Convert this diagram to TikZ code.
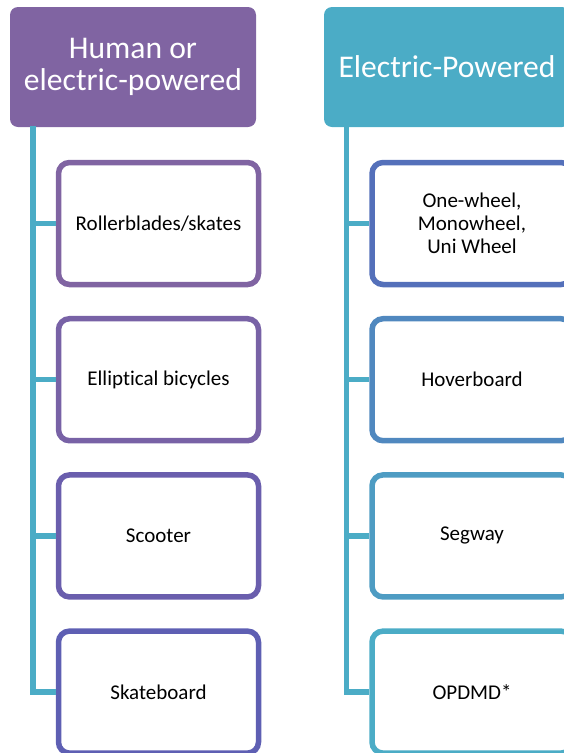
\documentclass[tikz,border=0pt]{standalone}
\usepackage{fontspec}
\setmainfont[Ligatures=NoCommon]{Carlito}
\usetikzlibrary{calc}

\definecolor{hpurple}{HTML}{8064A2}
\definecolor{haqua}{HTML}{4BACC6}
\definecolor{bcolA}{HTML}{8064A2}
\definecolor{bcolB}{HTML}{7862A6}
\definecolor{bcolC}{HTML}{6A5EAD}
\definecolor{bcolD}{HTML}{5E5FB3}
\definecolor{bcolE}{HTML}{5470BA}
\definecolor{bcolF}{HTML}{5088BF}
\definecolor{bcolG}{HTML}{4E9CC3}
\definecolor{bcolH}{HTML}{4BACC6}

\tikzset{
    header/.style={fill=#1, draw=none, rounded corners=8pt, minimum width=246pt,
        minimum height=120pt, inner sep=0pt, text=white, align=center,
        font=\fontsize{31.6}{32}\selectfont},
    itembox/.style={draw=#1, fill=white, line width=5.5pt, rounded corners=11pt,
        minimum width=200pt, minimum height=122pt, inner sep=0pt, align=center,
        font=\fontsize{21}{23}\selectfont},
    trunk/.style={draw=haqua, line width=5.5pt}
}

\begin{document}
\begin{tikzpicture}[x=1pt,y=-1pt]
    \useasboundingbox (0,0) rectangle (564,753);
    \clip (0,0) rectangle (564,753);
    \pgfmathsetmacro{\ytop}{223.5}
    \pgfmathsetmacro{\ystep}{156.2}
    % Define points
    \coordinate (Ltop) at (33,126);
    \coordinate (Rtop) at (346.5,126);
    % Draw the two headers
    \node[header=hpurple] (hL) at (133,67) {Human or\\electric-powered};
    \node[header=haqua] (hR) at (447,67) {Electric-Powered};
    % Draw the boxes of both columns
    \foreach \t/\c [count=\i] in {{Rollerblades/skates}/bcolA, {Elliptical bicycles}/bcolB,
        {Scooter}/bcolC, {Skateboard}/bcolD} {
        \pgfmathsetmacro{\yy}{\ytop+(\i-1)*\ystep}
        \node[itembox=\c] (L\i) at (158.5,\yy) {\t};
    }
    \foreach \t/\c [count=\i] in {{One-wheel,\\Monowheel,\\Uni Wheel}/bcolE, {Hoverboard}/bcolF,
        {Segway}/bcolG, {OPDMD*}/bcolH} {
        \pgfmathsetmacro{\yy}{\ytop+(\i-1)*\ystep}
        \node[itembox=\c] (R\i) at (472,\yy) {\t};
    }
    % Draw the trunks and branches
    \draw[trunk] (Ltop) |- (L4.west);
    \draw[trunk] (Rtop) |- (R4.west);
    \foreach \i in {1,2,3} {
        \draw[trunk] (Ltop |- L\i.west) -- (L\i.west);
        \draw[trunk] (Rtop |- R\i.west) -- (R\i.west);
    }
\end{tikzpicture}
\end{document}
